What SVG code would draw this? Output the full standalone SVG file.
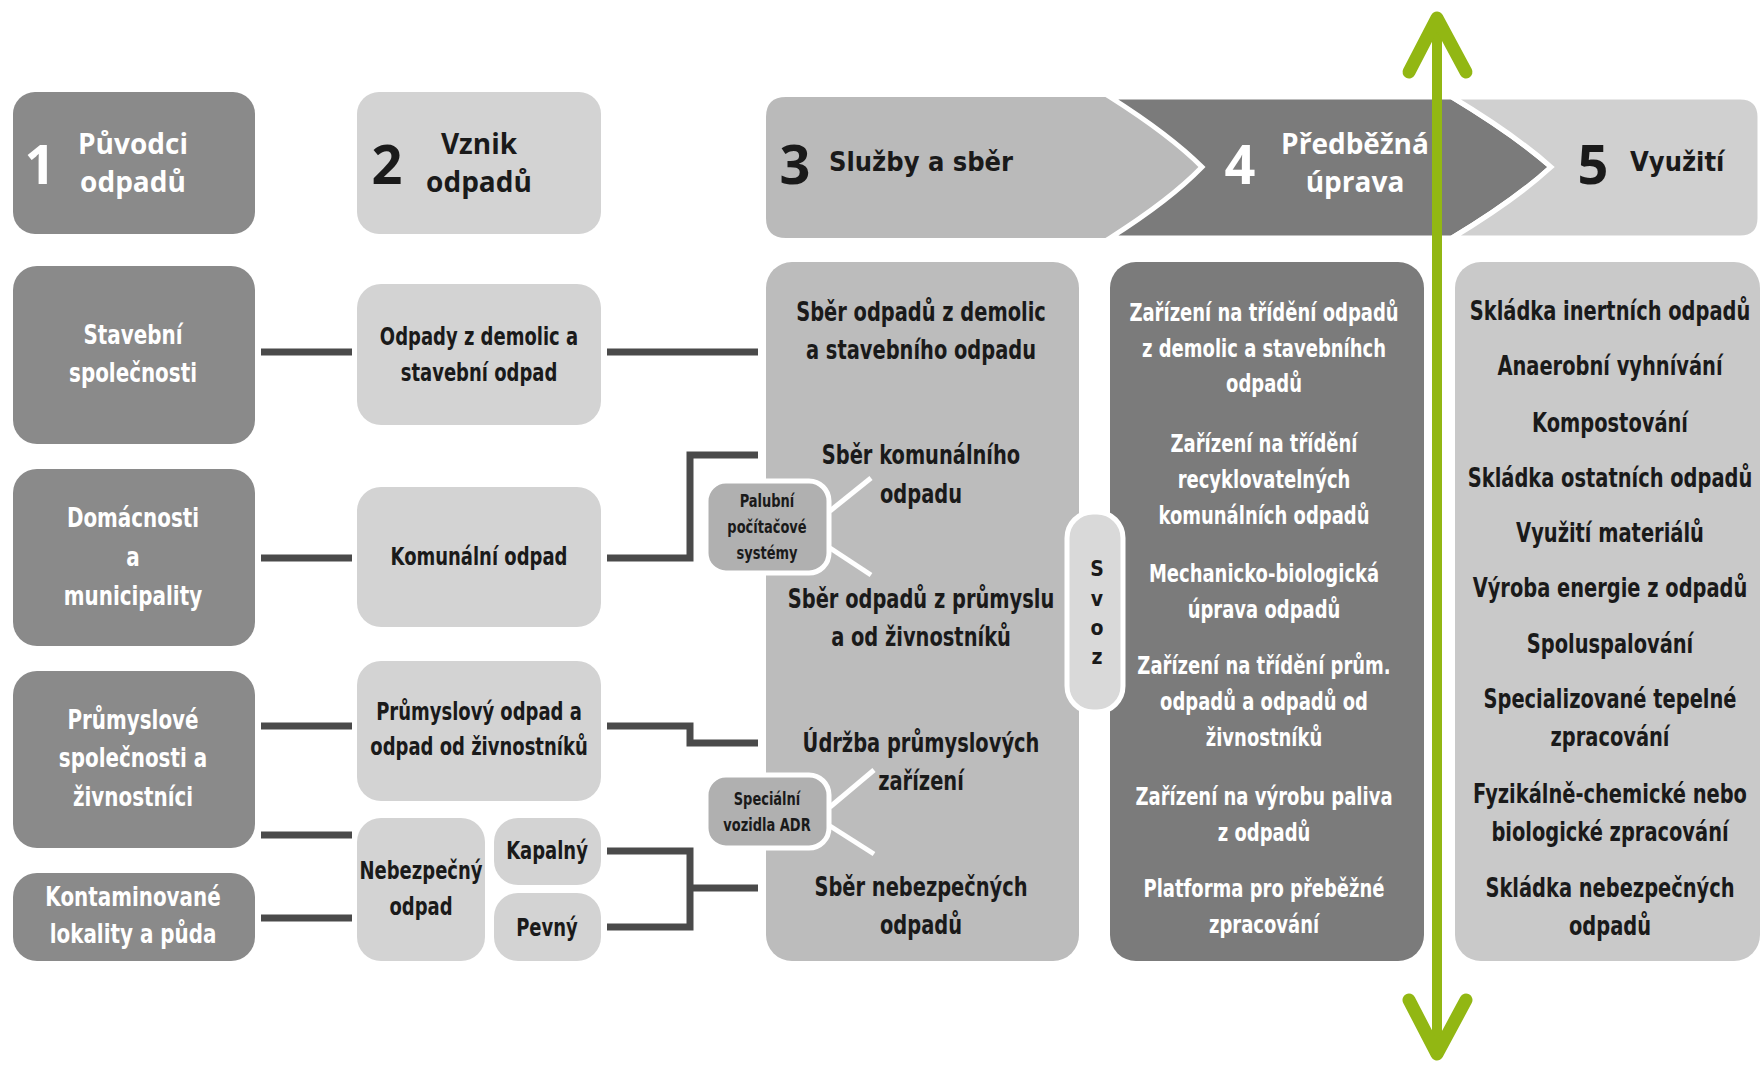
<svg xmlns="http://www.w3.org/2000/svg" width="1762" height="1065" viewBox="0 0 1762 1065">
<defs>
<style>
.t{font-family:"DejaVu Sans Condensed","DejaVu Sans",sans-serif;font-weight:bold;text-anchor:middle;dominant-baseline:central}
.ts{font-family:"DejaVu Sans Condensed","DejaVu Sans",sans-serif;font-weight:bold;text-anchor:start;dominant-baseline:central}
.w{fill:#ffffff}
.k{fill:#1a1a1a}
.h{font-family:"Open Sans","DejaVu Sans",sans-serif;font-weight:bold;text-anchor:middle;dominant-baseline:central}
.num{font-family:"Open Sans","DejaVu Sans",sans-serif;font-weight:bold;font-size:54px;text-anchor:middle;dominant-baseline:central}
.c1{fill:#8a8a8a}
.c2{fill:#d3d3d3}
.con{fill:none;stroke:#4a4a4a;stroke-width:7}
.wl{stroke:#ffffff;stroke-width:5;fill:none}
.f26{font-size:27px}
.f24{font-size:25px}
.f16{font-size:17px}
</style>
</defs>
<rect width="1762" height="1065" fill="#ffffff"/>

<!-- header band -->
<g id="band">
<path d="M786,97 L1110,97 Q1170,135 1202,167 Q1170,200 1110,238 L786,238 Q766,238 766,218 L766,117 Q766,97 786,97 Z" fill="#bababa"/>
<path d="M1110,97 L1452,97 Q1515,135 1551,167 Q1515,200 1452,238 L1110,238 Q1170,200 1202,167 Q1170,135 1110,97 Z" fill="#7b7b7b" stroke="#ffffff" stroke-width="5"/>
<path d="M1452,97 L1740,97 Q1760,97 1760,117 L1760,218 Q1760,238 1740,238 L1452,238 Q1515,200 1551,167 Q1515,135 1452,97 Z" fill="#d0d0d0" stroke="#ffffff" stroke-width="5"/>
</g>
<g id="h1">
<rect x="13" y="92" width="242" height="142" rx="22" class="c1"/>
<text x="40" y="163" class="num w">1</text>
<text x="133" y="143" class="h w" font-size="28">Původci</text>
<text x="133" y="181" class="h w" font-size="28">odpadů</text>
</g>
<g id="h2">
<rect x="357" y="92" width="244" height="142" rx="22" class="c2"/>
<text x="387" y="163" class="num k">2</text>
<text x="479" y="143" class="h k" font-size="28">Vznik</text>
<text x="479" y="181" class="h k" font-size="28">odpadů</text>
</g>
<g id="h3">
<text x="795" y="163" class="num k">3</text>
<text x="829" y="161" class="ts k f26">Služby a sběr</text>
</g>
<g id="h4">
<text x="1240" y="163" class="num w">4</text>
<text x="1355" y="143" class="h w" font-size="28">Předběžná</text>
<text x="1355" y="181" class="h w" font-size="28">úprava</text>
</g>
<g id="h5">
<text x="1593" y="163" class="num k">5</text>
<text x="1630" y="161" class="ts k f26">Využití</text>
</g>

<!-- connectors -->
<g id="connectors">
<line x1="261" y1="352" x2="352" y2="352" class="con"/>
<line x1="607" y1="352" x2="758" y2="352" class="con"/>
<line x1="261" y1="558" x2="352" y2="558" class="con"/>
<polyline points="607,558 690,558 690,455 758,455" class="con"/>
<line x1="261" y1="726" x2="352" y2="726" class="con"/>
<polyline points="607,726 690,726 690,743 758,743" class="con"/>
<line x1="261" y1="835" x2="352" y2="835" class="con"/>
<line x1="261" y1="918" x2="352" y2="918" class="con"/>
<polyline points="607,851 690,851 690,927 607,927" class="con"/>
<line x1="690" y1="888" x2="758" y2="888" class="con"/>
</g>

<!-- column 1 -->
<g id="n-stavebni">
<rect x="13" y="266" width="242" height="178" rx="24" class="c1"/>
<g transform="translate(133 0) scale(0.82 1)">
<text x="0" y="335" class="t w f26">Stavební</text>
<text x="0" y="373" class="t w f26">společnosti</text>
</g>
</g>
<g id="n-domacnosti">
<rect x="13" y="469" width="242" height="177" rx="24" class="c1"/>
<g transform="translate(133 0) scale(0.82 1)">
<text x="0" y="518" class="t w f26">Domácnosti</text>
<text x="0" y="557" class="t w f26">a</text>
<text x="0" y="596" class="t w f26">municipality</text>
</g>
</g>
<g id="n-prumyslove">
<rect x="13" y="671" width="242" height="177" rx="24" class="c1"/>
<g transform="translate(133 0) scale(0.82 1)">
<text x="0" y="720" class="t w f26">Průmyslové</text>
<text x="0" y="758" class="t w f26">společnosti a</text>
<text x="0" y="797" class="t w f26">živnostníci</text>
</g>
</g>
<g id="n-kontaminovane">
<rect x="13" y="873" width="242" height="88" rx="24" class="c1"/>
<g transform="translate(133 0) scale(0.82 1)">
<text x="0" y="897" class="t w f26">Kontaminované</text>
<text x="0" y="934" class="t w f26">lokality a půda</text>
</g>
</g>

<!-- column 2 -->
<g id="n-demolice">
<rect x="357" y="284" width="244" height="141" rx="24" class="c2"/>
<g transform="translate(479 0) scale(0.8 1)">
<text x="0" y="336" class="t k f24">Odpady z demolic a</text>
<text x="0" y="372" class="t k f24">stavební odpad</text>
</g>
</g>
<g id="n-komunalni">
<rect x="357" y="487" width="244" height="140" rx="24" class="c2"/>
<g transform="translate(479 0) scale(0.8 1)">
<text x="0" y="556" class="t k f24">Komunální odpad</text>
</g>
</g>
<g id="n-prumyslovy">
<rect x="357" y="661" width="244" height="140" rx="24" class="c2"/>
<g transform="translate(479 0) scale(0.8 1)">
<text x="0" y="711" class="t k f24">Průmyslový odpad a</text>
<text x="0" y="746" class="t k f24">odpad od živnostníků</text>
</g>
</g>
<g id="n-nebezpecny">
<rect x="357" y="818" width="128" height="143" rx="24" class="c2"/>
<g transform="translate(421 0) scale(0.8 1)">
<text x="0" y="870" class="t k f24">Nebezpečný</text>
<text x="0" y="906" class="t k f24">odpad</text>
</g>
</g>
<g id="n-kapalny">
<rect x="494" y="818" width="107" height="67" rx="24" class="c2"/>
<g transform="translate(547 0) scale(0.8 1)">
<text x="0" y="850" class="t k f24">Kapalný</text>
</g>
</g>
<g id="n-pevny">
<rect x="494" y="893" width="107" height="68" rx="24" class="c2"/>
<g transform="translate(547 0) scale(0.8 1)">
<text x="0" y="927" class="t k f24">Pevný</text>
</g>
</g>

<!-- column 3 -->
<g id="n-sluzby">
<rect x="766" y="262" width="313" height="699" rx="26" fill="#bcbcbc"/>
<g transform="translate(921 0) scale(0.8 1)">
<text x="0" y="312" class="t k f26">Sběr odpadů z demolic</text>
<text x="0" y="350" class="t k f26">a stavebního odpadu</text>
<text x="0" y="455" class="t k f26">Sběr komunálního</text>
<text x="0" y="494" class="t k f26">odpadu</text>
<text x="0" y="599" class="t k f26">Sběr odpadů z průmyslu</text>
<text x="0" y="637" class="t k f26">a od živnostníků</text>
<text x="0" y="743" class="t k f26">Údržba průmyslových</text>
<text x="0" y="781" class="t k f26">zařízení</text>
<text x="0" y="887" class="t k f26">Sběr nebezpečných</text>
<text x="0" y="925" class="t k f26">odpadů</text>
</g>
</g>

<!-- small boxes -->
<g id="n-palubni">
<line x1="830" y1="511" x2="871" y2="478" class="wl"/>
<line x1="830" y1="548" x2="871" y2="575" class="wl"/>
<rect x="706" y="481" width="123" height="92" rx="20" fill="#b0b0b0" stroke="#ffffff" stroke-width="5"/>
<g transform="translate(767 0) scale(0.85 1)">
<text x="0" y="501" class="t k f16">Palubní</text>
<text x="0" y="527" class="t k f16">počítačové</text>
<text x="0" y="553" class="t k f16">systémy</text>
</g>
</g>
<g id="n-specialni">
<line x1="830" y1="807" x2="874" y2="770" class="wl"/>
<line x1="830" y1="826" x2="874" y2="854" class="wl"/>
<rect x="706" y="775" width="123" height="73" rx="20" fill="#b0b0b0" stroke="#ffffff" stroke-width="5"/>
<g transform="translate(767 0) scale(0.85 1)">
<text x="0" y="799" class="t k f16">Speciální</text>
<text x="0" y="825" class="t k f16">vozidla ADR</text>
</g>
</g>

<!-- column 4 -->
<g id="n-uprava">
<rect x="1110" y="262" width="314" height="699" rx="26" fill="#7b7b7b"/>
<g transform="translate(1264 0) scale(0.8 1)">
<text x="0" y="312" class="t w f24">Zařízení na třídění odpadů</text>
<text x="0" y="348" class="t w f24">z demolic a stavebníhch</text>
<text x="0" y="383" class="t w f24">odpadů</text>
<text x="0" y="443" class="t w f24">Zařízení na třídění</text>
<text x="0" y="479" class="t w f24">recyklovatelných</text>
<text x="0" y="515" class="t w f24">komunálních odpadů</text>
<text x="0" y="573" class="t w f24">Mechanicko-biologická</text>
<text x="0" y="609" class="t w f24">úprava odpadů</text>
<text x="0" y="665" class="t w f24">Zařízení na třídění prům.</text>
<text x="0" y="701" class="t w f24">odpadů a odpadů od</text>
<text x="0" y="737" class="t w f24">živnostníků</text>
<text x="0" y="796" class="t w f24">Zařízení na výrobu paliva</text>
<text x="0" y="832" class="t w f24">z odpadů</text>
<text x="0" y="888" class="t w f24">Platforma pro přeběžné</text>
<text x="0" y="924" class="t w f24">zpracování</text>
</g>
</g>

<!-- svoz -->
<g id="n-svoz">
<rect x="1067" y="512" width="56" height="200" rx="26" fill="#d9d9d9" stroke="#ffffff" stroke-width="5"/>
<text x="1097" y="569" class="t k" font-size="21">S</text>
<text x="1097" y="599" class="t k" font-size="21">v</text>
<text x="1097" y="628" class="t k" font-size="21">o</text>
<text x="1097" y="657" class="t k" font-size="21">z</text>
</g>

<!-- column 5 -->
<g id="n-vyuziti">
<rect x="1455" y="262" width="305" height="699" rx="26" fill="#c9c9c9"/>
<g transform="translate(1610 0) scale(0.8 1)">
<text x="0" y="311" class="t k f26">Skládka inertních odpadů</text>
<text x="0" y="366" class="t k f26">Anaerobní vyhnívání</text>
<text x="0" y="423" class="t k f26">Kompostování</text>
<text x="0" y="478" class="t k f26">Skládka ostatních odpadů</text>
<text x="0" y="533" class="t k f26">Využití materiálů</text>
<text x="0" y="588" class="t k f26">Výroba energie z odpadů</text>
<text x="0" y="644" class="t k f26">Spoluspalování</text>
<text x="0" y="699" class="t k f26">Specializované tepelné</text>
<text x="0" y="737" class="t k f26">zpracování</text>
<text x="0" y="794" class="t k f26">Fyzikálně-chemické nebo</text>
<text x="0" y="832" class="t k f26">biologické zpracování</text>
<text x="0" y="888" class="t k f26">Skládka nebezpečných</text>
<text x="0" y="926" class="t k f26">odpadů</text>
</g>
</g>

<!-- green double arrow -->
<g id="arrow" fill="none" stroke="#92b713" stroke-linecap="round" stroke-linejoin="round">
<line x1="1437" y1="16" x2="1437" y2="1058" stroke-width="10" stroke-linecap="butt"/>
<polyline points="1409,72 1437,18 1466,72" stroke-width="13"/>
<polyline points="1409,1000 1437,1054 1466,1000" stroke-width="13"/>
</g>
</svg>
